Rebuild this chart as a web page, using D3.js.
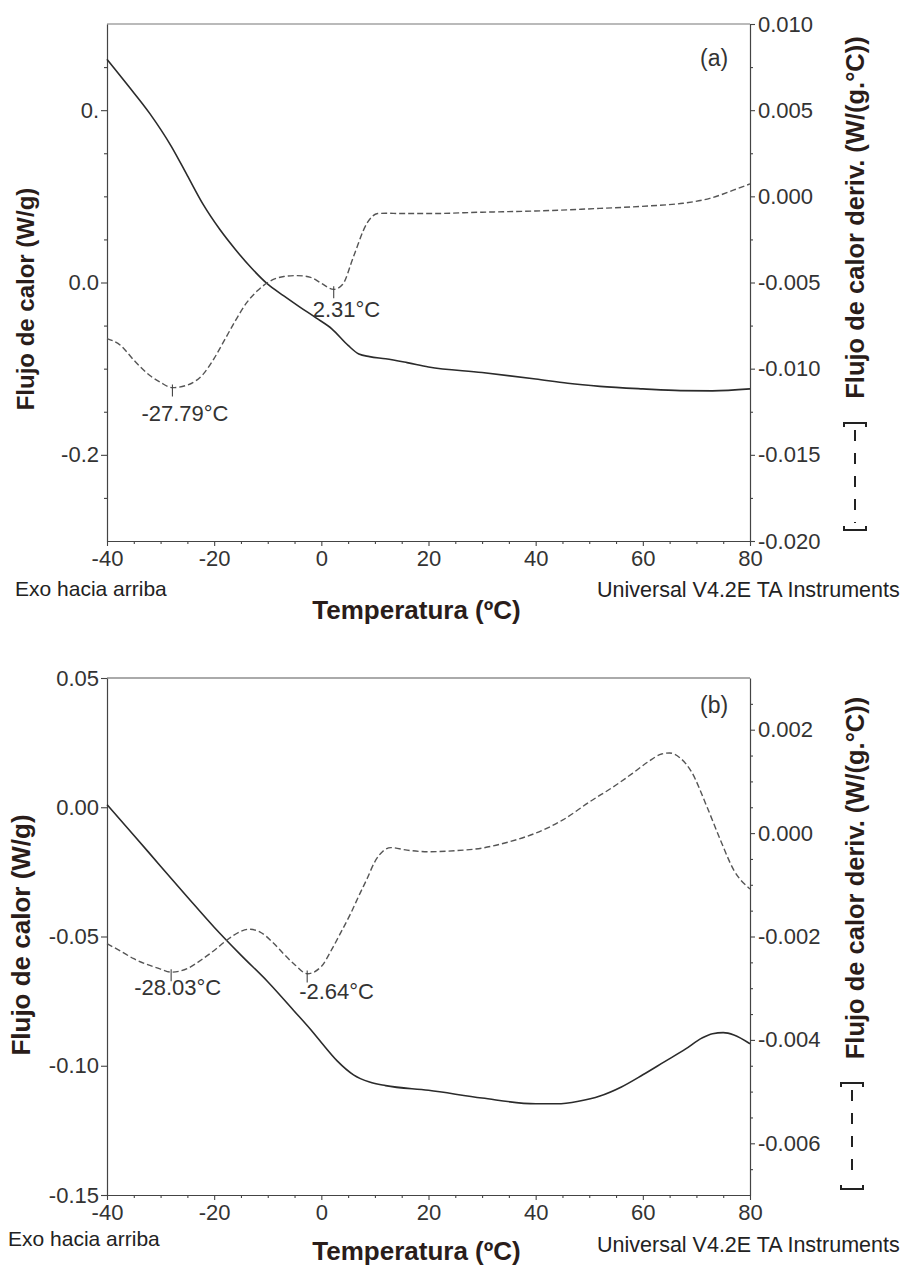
<!DOCTYPE html>
<html><head><meta charset="utf-8">
<script src="https://cdn.jsdelivr.net/npm/d3@7"></script>
<style>
body{margin:0;background:#fff}
svg{display:block}
text{font-family:"Liberation Sans",Arial,sans-serif}
</style>
</head><body>
<svg id="c" width="903" height="1275"></svg>
<script>
// ---------- shared x axis ----------
const xTickValues = [-40, -20, 0, 20, 40, 60, 80];
const xTickLabels = ["-40", "-20", "0", "20", "40", "60", "80"];

// ---------- panel (a) ----------
const aFlowT = [-40,-36,-32,-28,-25,-22,-19,-16,-13,-10,-7,-4,-1,2,5,7,9,12,16,20,30,40,46,52,60,67,73,80];
const aFlow  = [0.259,0.228,0.196,0.158,0.124,0.090,0.062,0.038,0.0165,-0.002,-0.0155,-0.0285,-0.041,-0.054,-0.073,-0.083,-0.086,-0.0885,-0.093,-0.098,-0.1045,-0.112,-0.117,-0.1205,-0.1235,-0.1255,-0.1258,-0.1235];
const aDerivT = [-40,-37.5,-35,-32,-30,-27.8,-25,-22,-20,-18,-16,-14,-12,-10,-7,-4.5,-2,0,2.3,4,6,8.5,10.5,12,15,20,30,40,52,61,67.5,72.5,77,80];
const aDeriv  = [-0.00826,-0.00864,-0.0095,-0.0104,-0.0108,-0.0111,-0.01095,-0.0103,-0.0094,-0.0083,-0.0072,-0.0062,-0.0055,-0.0050,-0.00465,-0.0046,-0.0047,-0.00505,-0.0054,-0.0051,-0.0035,-0.00157,-0.0010,-0.00098,-0.00100,-0.00100,-0.00092,-0.00085,-0.00070,-0.00056,-0.00040,-0.00012,0.00037,0.00072];
const aLeftTicks  = [0.2, 0.0, -0.2];
const aLeftLabels = ["0.", "0.0", "-0.2"];
const aRightTicks  = [0.010, 0.005, 0.000, -0.005, -0.010, -0.015, -0.020];
const aRightLabels = ["0.010", "0.005", "0.000", "-0.005", "-0.010", "-0.015", "-0.020"];
const aPeaks      = [-27.79, 2.31];
const aPeakLabels = ["-27.79°C", "2.31°C"];

// ---------- panel (b) ----------
const bFlowT = [-40,-35,-30,-25,-20,-15,-10,-5,-2,0,3,6,9,12,20,30,40,44,48,52,56,60,64,68,71,73,75,77,80];
const bFlow  = [0.001,-0.0108,-0.0228,-0.0347,-0.0464,-0.0572,-0.0675,-0.0790,-0.0860,-0.0910,-0.0982,-0.1035,-0.1063,-0.1077,-0.1095,-0.1125,-0.1147,-0.1147,-0.1137,-0.1117,-0.1082,-0.1035,-0.0985,-0.0935,-0.0893,-0.0876,-0.0872,-0.0881,-0.0915];
const bDerivT = [-40,-37.5,-35,-32,-30,-28,-25,-22.5,-20,-17.5,-15,-13.5,-11.5,-9,-7,-5,-2.6,0,2,3.5,5.5,7.2,8.5,10,11.5,13,16,20,25,30,35,40,45,50,55,58,61,63.5,65,67,69,72,74.5,77,80];
const bDeriv  = [-0.00214,-0.00228,-0.00243,-0.00256,-0.00263,-0.00269,-0.00262,-0.00246,-0.00227,-0.00206,-0.00190,-0.00186,-0.00191,-0.00212,-0.00234,-0.00254,-0.00272,-0.00258,-0.00224,-0.00195,-0.00155,-0.00117,-0.00089,-0.00055,-0.00035,-0.00028,-0.00033,-0.00036,-0.00034,-0.00029,-0.00017,0.00000,0.00025,0.00060,0.00093,0.00115,0.00138,0.00153,0.00155,0.00145,0.00120,0.00050,-0.00014,-0.00072,-0.00108];
const bLeftTicks  = [0.05, 0.00, -0.05, -0.10, -0.15];
const bLeftLabels = ["0.05", "0.00", "-0.05", "-0.10", "-0.15"];
const bRightTicks  = [0.002, 0.000, -0.002, -0.004, -0.006];
const bRightLabels = ["0.002", "0.000", "-0.002", "-0.004", "-0.006"];
const bRightMinor  = [0.0025, 0.0015, 0.001, 0.0005, -0.0005, -0.001, -0.0015, -0.0025, -0.003, -0.0035, -0.0045, -0.005, -0.0055, -0.0065];
const bPeaks      = [-28.03, -2.64];
const bPeakLabels = ["-28.03°C", "-2.64°C"];

// ---------- texts ----------
const leftTitle  = "Flujo de calor (W/g)";
const rightTitle = "Flujo de calor deriv. (W/(g.°C))";
const xTitle     = "Temperatura (ºC)";
const exoText    = "Exo hacia arriba";
const instText   = "Universal V4.2E TA Instruments";

const svg = d3.select("#c");
const titleColor = "#2a1d1a";

function interp(ts, vs, t){
  const i = Math.max(1, Math.min(ts.length-1, d3.bisectLeft(ts, t)));
  const t0 = ts[i-1], t1 = ts[i];
  return vs[i-1] + (vs[i]-vs[i-1])*(t-t0)/(t1-t0);
}

function styleAxis(g, fs){
  g.select(".domain").attr("stroke", "#444").attr("stroke-width", 1.2);
  g.selectAll(".tick line").attr("stroke", "#444").attr("stroke-width", 1.1);
  g.selectAll(".tick text").attr("fill", "#333").style("font-size", fs + "px")
   .style("font-family", '"Liberation Sans",Arial,sans-serif');
}

function panel(o){
  const g = svg.append("g");
  const x = d3.scaleLinear().domain([-40, 80]).range([107, 750]);
  const yL = d3.scaleLinear().domain(o.leftDomain).range([o.bottom, o.top]);
  const yR = d3.scaleLinear().domain(o.rightDomain).range([o.bottom, o.top]);

  // top frame line
  g.append("line").attr("x1", 107).attr("x2", 750).attr("y1", o.top).attr("y2", o.top)
    .attr("stroke", o.topColor).attr("stroke-width", o.topWidth);

  // minor ticks
  const xMinor = d3.range(-40, 80.1, 5).filter(v => v % 20 !== 0);
  const gxm = g.append("g").attr("transform", `translate(0,${o.bottom})`)
    .call(d3.axisBottom(x).tickValues(xMinor).tickSize(3).tickFormat(""));
  gxm.select(".domain").remove(); styleAxis(gxm, 22);
  if (o.leftMinor.length){
    const gym = g.append("g").attr("transform", "translate(107,0)")
      .call(d3.axisLeft(yL).tickValues(o.leftMinor).tickSize(3).tickFormat(""));
    gym.select(".domain").remove(); styleAxis(gym, 22);
  }
  const grm = g.append("g").attr("transform", "translate(750,0)")
    .call(d3.axisRight(yR).tickValues(o.rightMinor).tickSize(3).tickFormat(""));
  grm.select(".domain").remove(); styleAxis(grm, 22);

  // major axes
  const gx = g.append("g").attr("transform", `translate(0,${o.bottom})`)
    .call(d3.axisBottom(x).tickValues(xTickValues).tickFormat((d,i)=>xTickLabels[i])
      .tickSize(5).tickPadding(4).tickSizeOuter(0));
  styleAxis(gx, 22);
  const gy = g.append("g").attr("transform", "translate(107,0)")
    .call(d3.axisLeft(yL).tickValues(o.leftTicks).tickFormat((d,i)=>o.leftLabels[i])
      .tickSize(6).tickPadding(2).tickSizeOuter(0));
  styleAxis(gy, 22);
  const gr = g.append("g").attr("transform", "translate(750,0)")
    .call(d3.axisRight(yR).tickValues(o.rightTicks).tickFormat((d,i)=>o.rightLabels[i])
      .tickSize(5).tickPadding(3).tickSizeOuter(0));
  styleAxis(gr, 22);

  // curves
  const lineL = d3.line().x(d=>x(d[0])).y(d=>yL(d[1])).curve(d3.curveMonotoneX);
  const lineR = d3.line().x(d=>x(d[0])).y(d=>yR(d[1])).curve(d3.curveMonotoneX);
  g.append("path").datum(d3.zip(o.flowT, o.flow)).attr("d", lineL)
    .attr("fill", "none").attr("stroke", "#2b2b2b").attr("stroke-width", 1.6);
  g.append("path").datum(d3.zip(o.derivT, o.deriv)).attr("d", lineR)
    .attr("fill", "none").attr("stroke", "#555").attr("stroke-width", 1.4)
    .attr("stroke-dasharray", "6,3");

  // peak annotations
  o.peaks.forEach((t, i) => {
    const px = x(t), py = yR(interp(o.derivT, o.deriv, t));
    g.append("line").attr("x1", px).attr("x2", px).attr("y1", py - 3).attr("y2", py + 9)
      .attr("stroke", "#444").attr("stroke-width", 1.1);
    g.append("text").attr("x", px + o.peakOff[i][0]).attr("y", py + o.peakOff[i][1])
      .attr("fill", "#333").style("font-size", "22px").text(o.peakLabels[i]);
  });

  // panel tag
  g.append("text").attr("x", 700).attr("y", o.top + o.tagDy).attr("fill", "#333")
    .style("font-size", "23px").text(o.tag);

  // left title
  g.append("text").attr("transform", `translate(${o.leftTitleX},${o.leftTitleY}) rotate(-90)`)
    .attr("text-anchor", "middle").attr("fill", titleColor).style("font-weight", "bold")
    .style("font-size", o.leftTitleSize + "px").text(leftTitle);

  // right title
  g.append("text").attr("transform", `translate(864,${o.rightTitleY}) rotate(-90)`)
    .attr("text-anchor", "middle").attr("fill", titleColor).style("font-weight", "bold")
    .style("font-size", "25.5px").text(rightTitle);

  // dashed legend bracket
  const bx = o.bracketX, b0 = o.bracketTop, b1 = o.bracketBottom;
  g.append("path").attr("d", `M${bx-11},${b0+4}V${b0}H${bx+11}V${b0+4}`)
    .attr("fill", "none").attr("stroke", "#222").attr("stroke-width", 2);
  g.append("path").attr("d", `M${bx-11},${b1-4}V${b1}H${bx+11}V${b1-4}`)
    .attr("fill", "none").attr("stroke", "#222").attr("stroke-width", 2);
  g.append("line").attr("x1", bx).attr("x2", bx).attr("y1", b0 + 7).attr("y2", b1 - 7)
    .attr("stroke", "#222").attr("stroke-width", 2).attr("stroke-dasharray", "11,12");

  // bottom texts
  g.append("text").attr("x", o.exoX).attr("y", o.exoY).attr("fill", "#222")
    .style("font-size", "21px").text(exoText);
  g.append("text").attr("x", 597).attr("y", o.instY).attr("fill", "#222")
    .style("font-size", "21.5px").text(instText);
  g.append("text").attr("x", 416.5).attr("y", o.xTitleY).attr("text-anchor", "middle")
    .attr("fill", titleColor).style("font-weight", "bold").style("font-size", "26px").text(xTitle);
}

panel({
  top: 24, bottom: 541,
  leftDomain: [-0.3, 0.3], rightDomain: [-0.020, 0.010],
  leftTicks: aLeftTicks, leftLabels: aLeftLabels,
  leftMinor: [0.25, 0.15, 0.1, 0.05, -0.05, -0.1, -0.15, -0.25],
  rightTicks: aRightTicks, rightLabels: aRightLabels,
  rightMinor: [0.0075, 0.0025, -0.0025, -0.0075, -0.0125, -0.0175],
  flowT: aFlowT, flow: aFlow, derivT: aDerivT, deriv: aDeriv,
  peaks: aPeaks, peakLabels: aPeakLabels, peakOff: [[-31, 33], [-21, 28]],
  topColor: "#777", topWidth: 1.2, tag: "(a)", tagDy: 42,
  leftTitleX: 34, leftTitleY: 299, leftTitleSize: 24,
  rightTitleY: 217.5, bracketX: 855, bracketTop: 423, bracketBottom: 530,
  exoX: 15, exoY: 596, instY: 597, xTitleY: 619
});

panel({
  top: 678, bottom: 1195,
  leftDomain: [-0.15, 0.05], rightDomain: [-0.007, 0.003],
  leftTicks: bLeftTicks, leftLabels: bLeftLabels, leftMinor: [],
  rightTicks: bRightTicks, rightLabels: bRightLabels,
  rightMinor: bRightMinor,
  flowT: bFlowT, flow: bFlow, derivT: bDerivT, deriv: bDeriv,
  peaks: bPeaks, peakLabels: bPeakLabels, peakOff: [[-37, 23], [-8, 25]],
  topColor: "#aaa", topWidth: 2, tag: "(b)", tagDy: 35,
  leftTitleX: 30, leftTitleY: 935, leftTitleSize: 26,
  rightTitleY: 878, bracketX: 852, bracketTop: 1083, bracketBottom: 1189,
  exoX: 8, exoY: 1246, instY: 1252, xTitleY: 1260
});
</script>
</body></html>
